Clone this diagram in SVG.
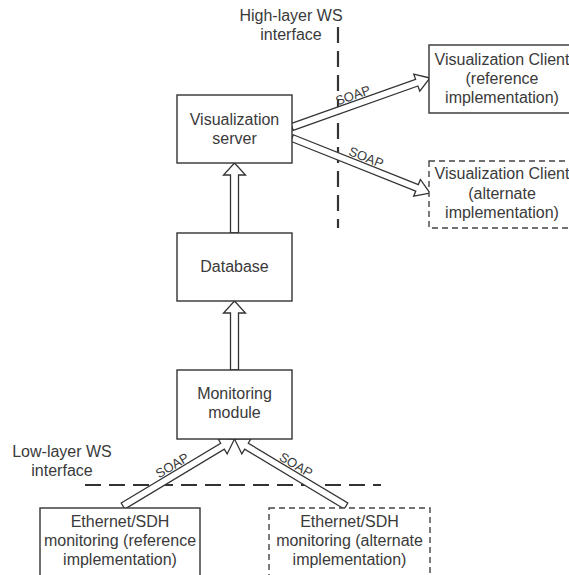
<svg xmlns="http://www.w3.org/2000/svg" width="569" height="575" viewBox="0 0 569 575">
<style>
.box{fill:#fff;stroke:#333;stroke-width:1.4}
.dbox{fill:#fff;stroke:#444;stroke-width:1.4;stroke-dasharray:6 4}
.t{font-family:"Liberation Sans",Arial,sans-serif;font-size:16px;fill:#3a3a3a;text-anchor:middle}
.s{font-family:"Liberation Sans",Arial,sans-serif;font-size:13px;fill:#3a3a3a;text-anchor:middle}
.arr{fill:#fff;stroke:#333;stroke-width:1.3;stroke-linejoin:miter}
.ifl{fill:none;stroke:#333;stroke-width:2.2;stroke-dasharray:16 8}
</style>
<rect width="569" height="575" fill="#fff"/>

<g id="interfaces">
<line class="ifl" x1="338" y1="27" x2="338" y2="228"/>
<line class="ifl" x1="85" y1="485" x2="381" y2="485"/>
<text class="t" x="291" y="21">High-layer WS</text>
<text class="t" x="291" y="40">interface</text>
<text class="t" x="62" y="457">Low-layer WS</text>
<text class="t" x="62" y="476">interface</text>
</g>

<g id="connectors">
<polygon class="arr" points="230.5,233 230.5,175 223.5,175 234.5,163 245.5,175 238.5,175 238.5,233"/>
<polygon class="arr" points="230.5,370 230.5,313 223.5,313 234.5,301 245.5,313 238.5,313 238.5,370"/>
<g transform="translate(292,127) rotate(-19.55)">
<polygon class="arr" points="0,-3.5 132.4,-3.5 132.4,-9 146.4,0 132.4,9 132.4,3.5 0,3.5"/>
<text class="s" x="68" y="-5">SOAP</text>
</g>
<g transform="translate(292,138) rotate(21.73)">
<polygon class="arr" points="0,-3.5 134.6,-3.5 134.6,-9 148.6,0 134.6,9 134.6,3.5 0,3.5"/>
<text class="s" x="76" y="-5">SOAP</text>
</g>
<g transform="translate(123,506) rotate(-31)">
<polygon class="arr" points="0,-3.5 116.1,-3.5 116.1,-9 130.1,0 116.1,9 116.1,3.5 0,3.5"/>
<text class="s" x="63" y="-5">SOAP</text>
</g>
<g transform="translate(346,506) rotate(-149)">
<polygon class="arr" points="0,-3.5 116.1,-3.5 116.1,-9 130.1,0 116.1,9 116.1,3.5 0,3.5"/>
</g>
<g transform="translate(234.5,439) rotate(31)">
<text class="s" x="66" y="-5">SOAP</text>
</g>
</g>

<g id="server">
<rect class="box" x="177" y="95" width="115" height="68"/>
<text class="t" x="234.5" y="125">Visualization</text>
<text class="t" x="234.5" y="144">server</text>
</g>
<g id="database">
<rect class="box" x="177" y="233" width="115" height="68"/>
<text class="t" x="234.5" y="272">Database</text>
</g>
<g id="monitoring">
<rect class="box" x="177" y="370" width="115" height="69"/>
<text class="t" x="234.5" y="399">Monitoring</text>
<text class="t" x="234.5" y="418">module</text>
</g>
<g id="client-ref">
<rect class="box" x="429" y="45" width="146" height="68"/>
<text class="t" x="502" y="65">Visualization Client</text>
<text class="t" x="502" y="84">(reference</text>
<text class="t" x="502" y="103">implementation)</text>
</g>
<g id="client-alt">
<rect class="dbox" x="429" y="161" width="146" height="67"/>
<text class="t" x="502" y="179">Visualization Client</text>
<text class="t" x="502" y="198.5">(alternate</text>
<text class="t" x="502" y="218">implementation)</text>
</g>
<g id="eth-ref">
<rect class="box" x="40" y="508" width="160" height="80"/>
<text class="t" x="120" y="527">Ethernet/SDH</text>
<text class="t" x="120" y="546">monitoring (reference</text>
<text class="t" x="120" y="565">implementation)</text>
</g>
<g id="eth-alt">
<rect class="dbox" x="269" y="508" width="161" height="80"/>
<text class="t" x="349.5" y="527">Ethernet/SDH</text>
<text class="t" x="349.5" y="546">monitoring (alternate</text>
<text class="t" x="349.5" y="565">implementation)</text>
</g>
</svg>
